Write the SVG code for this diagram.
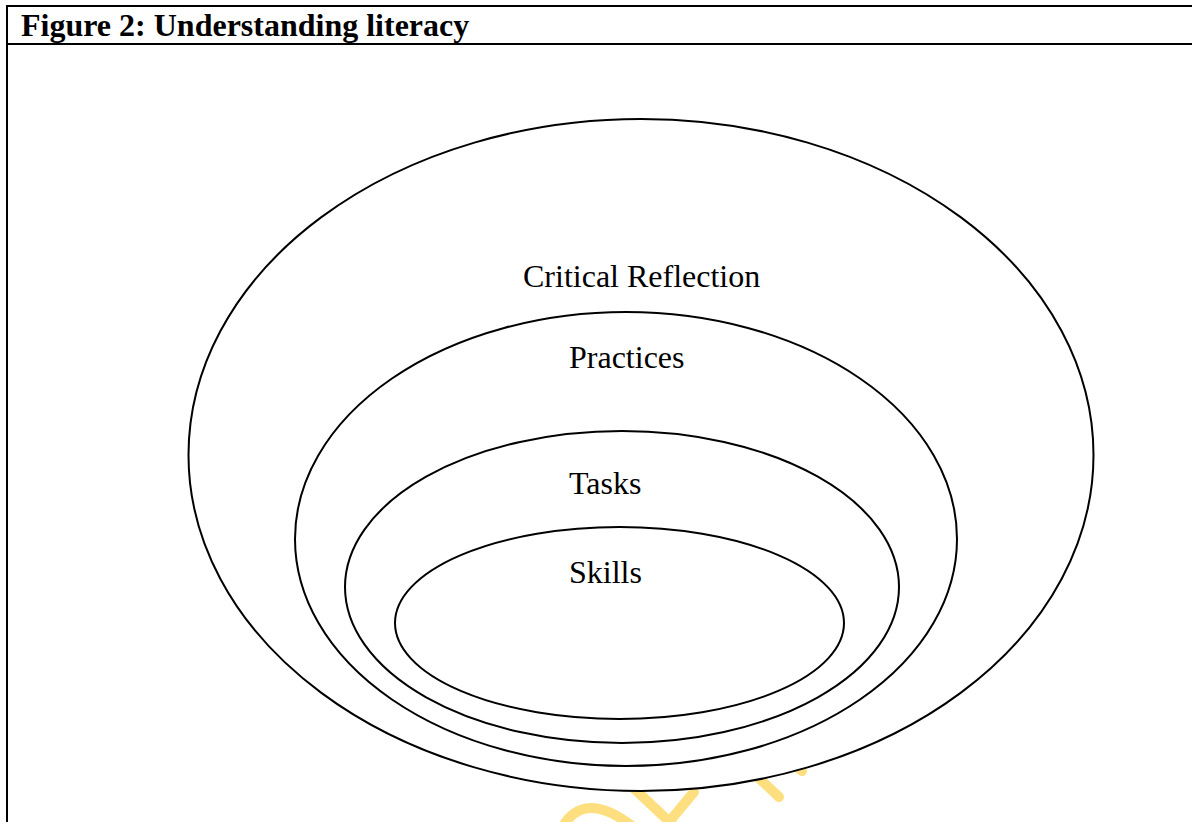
<svg xmlns="http://www.w3.org/2000/svg" width="1192" height="822" viewBox="0 0 1192 822">
<style>
.frame{stroke:#000;stroke-width:2;fill:none}
.ring{stroke:#000;stroke-width:2;fill:#fff}
.wm{stroke:#FEDF80;stroke-width:10;fill:none;stroke-linecap:round}
.lbl{font-family:"Liberation Serif","Times New Roman",serif;font-size:32px;fill:#000}
.title{font-family:"Liberation Serif","Times New Roman",serif;font-size:32px;font-weight:bold;fill:#000}
</style>
<rect width="1192" height="822" fill="#fff"/>
<g id="frame">
<line class="frame" x1="6" y1="6" x2="1192" y2="6"/>
<line class="frame" x1="7" y1="5" x2="7" y2="822"/>
<line class="frame" x1="6" y1="44" x2="1192" y2="44"/>
<text class="title" x="21" y="36">Figure 2: Understanding literacy</text>
</g>
<g id="watermark">
<path class="wm" d="M563 826 Q585 790 632 826"/>
<line class="wm" x1="625" y1="780" x2="676" y2="828"/>
<line class="wm" x1="694" y1="792" x2="664" y2="828"/>
<line class="wm" x1="745" y1="765" x2="779" y2="797"/>
<line class="wm" x1="790" y1="760" x2="802" y2="771"/>
</g>
<g id="critical-reflection">
<ellipse class="ring" cx="641" cy="455" rx="452.5" ry="336"/>
<text class="lbl" x="523" y="287">Critical Reflection</text>
</g>
<g id="practices">
<ellipse class="ring" cx="626" cy="539" rx="331" ry="227"/>
<text class="lbl" x="569" y="368">Practices</text>
</g>
<g id="tasks">
<ellipse class="ring" cx="622" cy="587" rx="277" ry="156"/>
<text class="lbl" x="569" y="494">Tasks</text>
</g>
<g id="skills">
<ellipse class="ring" cx="619.5" cy="623" rx="224.5" ry="96"/>
<text class="lbl" x="569" y="583">Skills</text>
</g>
<g id="connectors"/>
</svg>
